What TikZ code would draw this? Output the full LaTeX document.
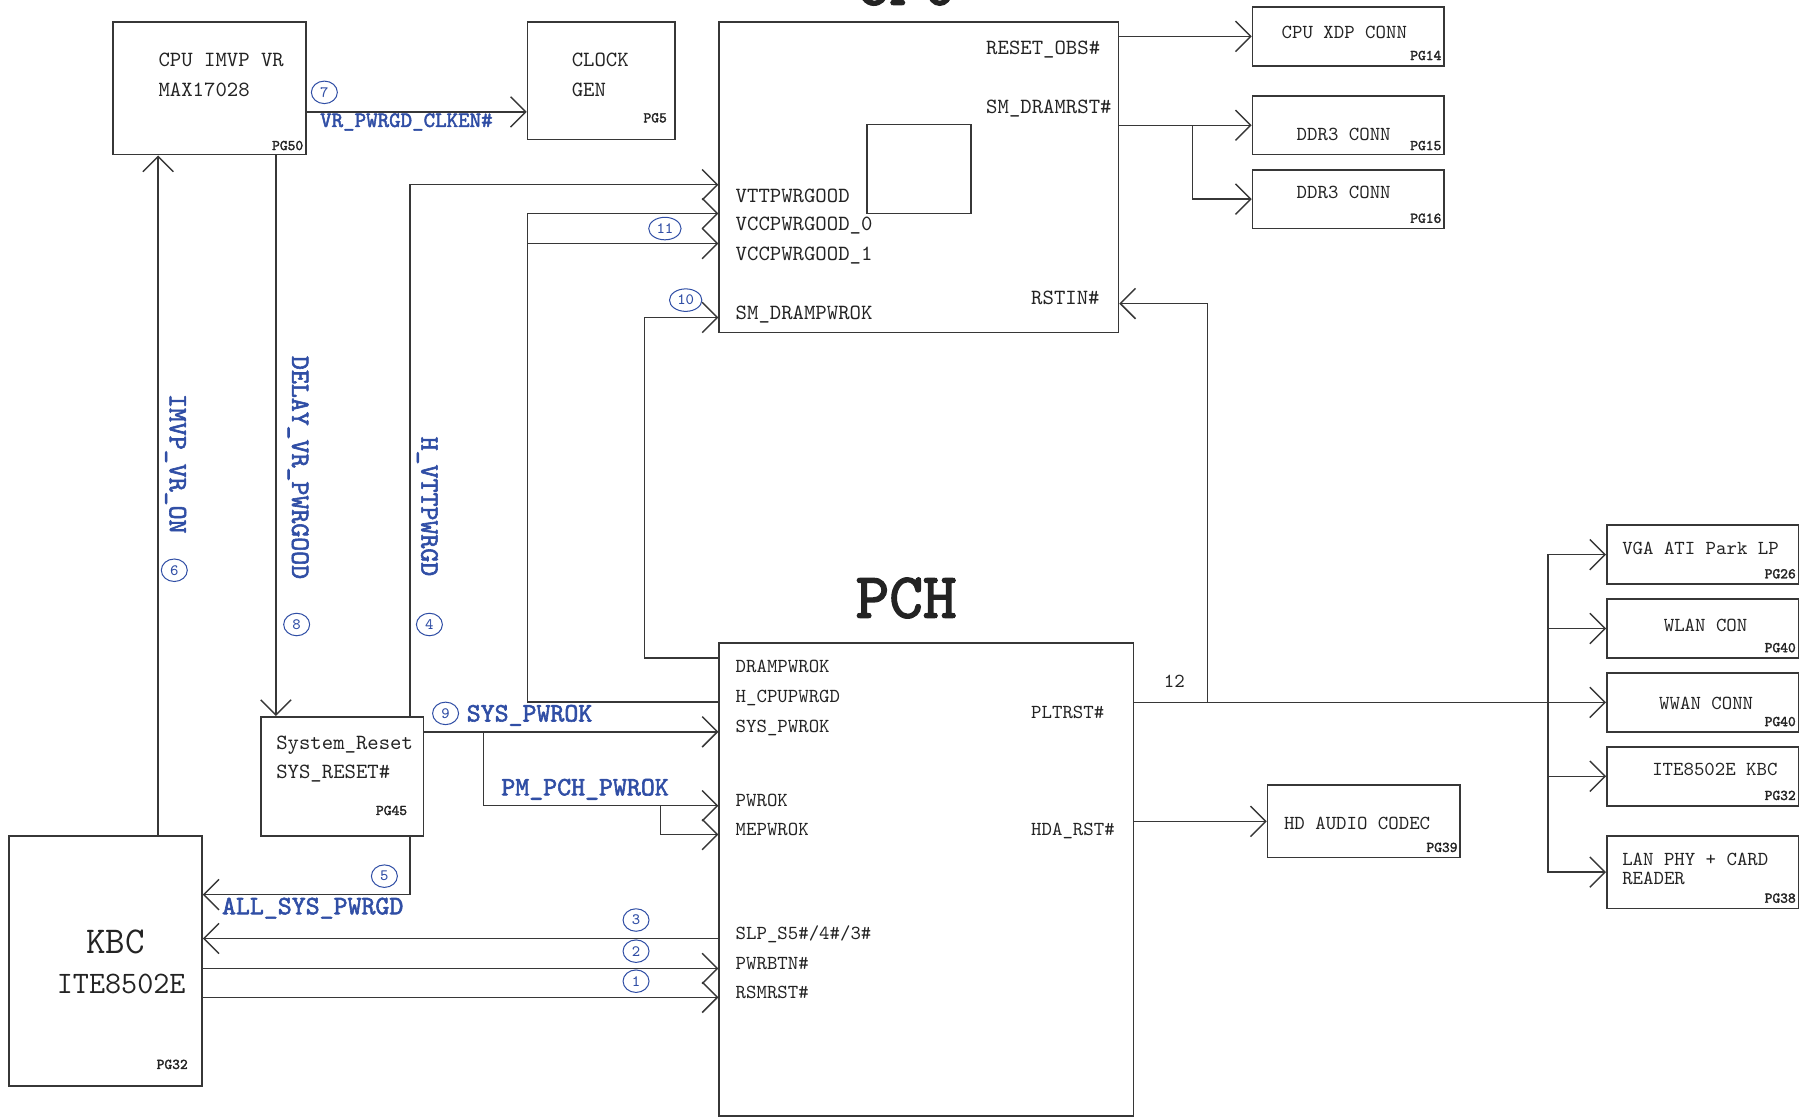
\documentclass[tikz,border=0pt]{standalone}
\usepackage{fontspec}
\usepackage{tikz}
\usetikzlibrary{arrows.meta,shapes.geometric}
\newfontfamily\darkmono{lmmono10-regular}[Extension=.otf,FakeBold=2.2]
\definecolor{ink}{RGB}{35,35,35}
\definecolor{wirec}{RGB}{55,55,55}
\definecolor{netc}{RGB}{48,78,165}

\begin{document}
\begin{tikzpicture}[x=0.02cm,y=-0.02cm,
  box/.style={draw=wirec,line width=0.8pt,inner sep=0pt},
  txt/.style={font=\ttfamily\fontsize{10.7}{12}\selectfont,text=ink,inner sep=0pt,anchor=base west},
  sml/.style={font=\ttfamily\fontsize{9.8}{11}\selectfont,text=ink,inner sep=0pt,anchor=base west},
  pg/.style={font=\darkmono\fontsize{7.3}{8}\selectfont,text=ink,inner sep=0pt,anchor=base east},
  net/.style={font=\darkmono\fontsize{13.1}{14}\selectfont,text=netc,inner sep=0pt,anchor=base west},
  ttl/.style={font=\darkmono\fontsize{31.6}{34}\selectfont,text=ink,inner sep=0pt,anchor=base},
  num/.style={ellipse,draw=netc,line width=0.5pt,text=netc,font=\ttfamily\fontsize{7.8}{8}\selectfont,
    inner xsep=1.5pt,inner ysep=0pt,minimum width=0.45cm,minimum height=0.39cm},
  wire/.style={draw=wirec,line width=0.7pt},
  sig/.style={wire,-{Straight Barb[length=7.5pt,width=15pt]}}]
\useasboundingbox (0,0) rectangle (1568,970);

\node[box,minimum width=3.34cm,minimum height=2.30cm] (imvp) at (181.5,76.5) {};
\node[box,minimum width=2.56cm,minimum height=2.04cm] (clk) at (521,70) {};
\node[box,minimum width=6.92cm,minimum height=5.38cm] (cpu) at (796,153.5) {};
\node[box,minimum width=1.80cm,minimum height=1.54cm] (core) at (796,146.5) {};
\foreach \n/\y in {xdp/31.5,ddra/108.5,ddrb/172.5}
  \node[box,minimum width=3.32cm,minimum height=1.02cm] (\n) at (1168,\y) {};
\node[box,minimum width=2.82cm,minimum height=2.06cm] (sysrst) at (296.5,672.5) {};
\node[box,minimum width=3.34cm,minimum height=4.34cm] (kbc) at (91.5,832.5) {};
\node[box,minimum width=7.18cm,minimum height=8.20cm] (pch) at (802.5,762) {};
\node[box,minimum width=3.34cm,minimum height=1.26cm] (hda) at (1181.5,711.5) {};
\foreach \n/\y in {vga/480.5,wlan/544.5,wwan/608.5,ekbc/672.5}
  \node[box,minimum width=3.32cm,minimum height=1.02cm] (\n) at (1475,\y) {};
\node[box,minimum width=3.32cm,minimum height=1.26cm] (lan) at (1475,755.5) {};

\node[ttl] (cputtl) at (785,4) {CPU};
\node[ttl] (pchttl) at (785,535) {PCH};

\node[txt] (imvpa) at (137,58) {CPU IMVP VR};
\node[txt] (imvpb) at (137,84) {MAX17028};
\node[txt] (clka) at (495,58) {CLOCK};
\node[txt] (clkb) at (495,84) {GEN};
\node[txt] (srsta) at (239,649) {System\_Reset};
\node[txt] (srstb) at (239,674) {SYS\_RESET\#};
\node[font=\ttfamily\fontsize{18.7}{20}\selectfont,text=ink,inner sep=0pt,anchor=base] (kbca) at (100,826) {KBC};
\node[font=\ttfamily\fontsize{15.4}{17}\selectfont,text=ink,inner sep=0pt,anchor=base] (kbcb) at (105,861) {ITE8502E};

\foreach \n/\t/\x/\y in {vtt/VTTPWRGOOD/637/175,vcc0/VCCPWRGOOD\_0/637/200,vcc1/VCCPWRGOOD\_1/637/226,
    dpw/SM\_DRAMPWROK/637/277,obs/RESET\_OBS\#/854/47,drst/SM\_DRAMRST\#/854/98,rstin/RSTIN\#/893/264}
  \node[txt] (c\n) at (\x,\y) {\t};
\foreach \n/\t/\x/\y in {dram/DRAMPWROK/637/583,hcpu/H\_CPUPWRGD/637/608.5,sysok/SYS\_PWROK/637/634.5,
    pwrok/PWROK/637/698.5,meok/MEPWROK/637/724,pwrbtn/PWRBTN\#/637/839.5,rsm/RSMRST\#/637/865,
    plt/PLTRST\#/893/622,hdarst/HDA\_RST\#/893/724}
  \node[sml] (p\n) at (\x,\y) {\t};
\node[sml] (pslp) at (637,814) {SLP\_S5\#/4\#/3\#};

\foreach \n/\t/\x/\y in {xdpt/CPU XDP CONN/1110/33,ddrat/DDR3 CONN/1123/122,ddrbt/DDR3 CONN/1123/172,
    hdat/HD AUDIO CODEC/1112/719,vgat/VGA ATI Park LP/1405/480,wlant/WLAN CON/1441/547,
    wwant/WWAN CONN/1437/615,ekbct/ITE8502E KBC/1431/672,lana/LAN PHY + CARD/1405/750,lanb/READER/1405/766,
    twelve/12/1008/596}
  \node[sml] (\n) at (\x,\y) {\t};

\foreach \n/\t/\x/\y in {p50/PG50/263/130,p5/PG5/578/106,p14/PG14/1249/52,p15/PG15/1249/130,
    p16/PG16/1249/193,p45/PG45/353/706,p32a/PG32/163/926,p39/PG39/1263/738,p26/PG26/1556/501,
    p40a/PG40/1556/565,p40b/PG40/1556/629,p32b/PG32/1556/693,p38/PG38/1556/782}
  \node[pg] (\n) at (\x,\y) {\t};

\node[net,font=\darkmono\fontsize{10.8}{12}\selectfont] (nclk) at (277,110) {VR\_PWRGD\_CLKEN\#};
\node[net] (nsys) at (404,625) {SYS\_PWROK};
\node[net] (npm) at (434,689) {PM\_PCH\_PWROK};
\node[net] (nall) at (192,792) {ALL\_SYS\_PWRGD};
\node[net,rotate=-90] (nimvp) at (147,341) {IMVP\_VR\_ON};
\node[net,rotate=-90] (ndly) at (253,308) {DELAY\_VR\_PWRGOOD};
\node[net,rotate=-90] (nvtt) at (365,378) {H\_VTTPWRGD};

\foreach \n/\x/\y in {1/551/850,2/551/824,3/551/797,4/372/541,5/333/759,6/151/494,
    7/281/80,8/257/541,9/386/618,10/594/260,11/576/198}
  \node[num] (o\n) at (\x,\y) {\n};

\draw[sig] (imvp.east |- 0,97) -- (clk.west |- 0,97);
\draw[sig] (kbc.north -| 137,0) -- (imvp.south -| 137,0);
\draw[sig] (imvp.south -| 239,0) -- (sysrst.north -| 239,0);
\draw[sig] (sysrst.north -| 355,0) |- (cpu.west |- 0,160);
\draw[sig] (sysrst.south -| 355,0) |- (kbc.east |- 0,775);
\draw[sig] (pch.west |- 0,608) -| (457,185) -- (cpu.west |- 0,185);
\coordinate (hcpuj) at (457,211);
\draw[sig] (hcpuj) -- (cpu.west |- hcpuj);
\draw[sig] (pch.west |- 0,570) -- ++(-64,0) |- (cpu.west |- 0,275);
\draw[sig] (sysrst.east |- 0,634) -- (pch.west |- 0,634);
\coordinate (pmj) at (419,634);
\draw[sig] (pmj) |- (pch.west |- 0,698);
\coordinate (mej) at (572,698);
\draw[sig] (mej) |- (pch.west |- 0,723);
\draw[sig] (pch.west |- 0,813) -- (kbc.east |- 0,813);
\draw[sig] (kbc.east |- 0,839) -- (pch.west |- 0,839);
\draw[sig] (kbc.east |- 0,864) -- (pch.west |- 0,864);
\draw[sig] (cpu.east |- xdp.west) -- (xdp.west);
\draw[sig] (cpu.east |- ddra.west) -- (ddra.west);
\coordinate (drstj) at (1033,108.5);
\draw[sig] (drstj) |- (ddrb.west);
\draw[sig] (pch.east |- wwan.west) -- (wwan.west);
\coordinate (rstj) at (1046,608.5);
\draw[sig] (rstj) |- (cpu.east |- 0,263);
\coordinate (busj) at (1341,608.5);
\foreach \b in {vga,wlan,ekbc,lan}
  \draw[sig] (busj) |- (\b.west);
\draw[sig] (pch.east |- hda.west) -- (hda.west);
\end{tikzpicture}
\end{document}
